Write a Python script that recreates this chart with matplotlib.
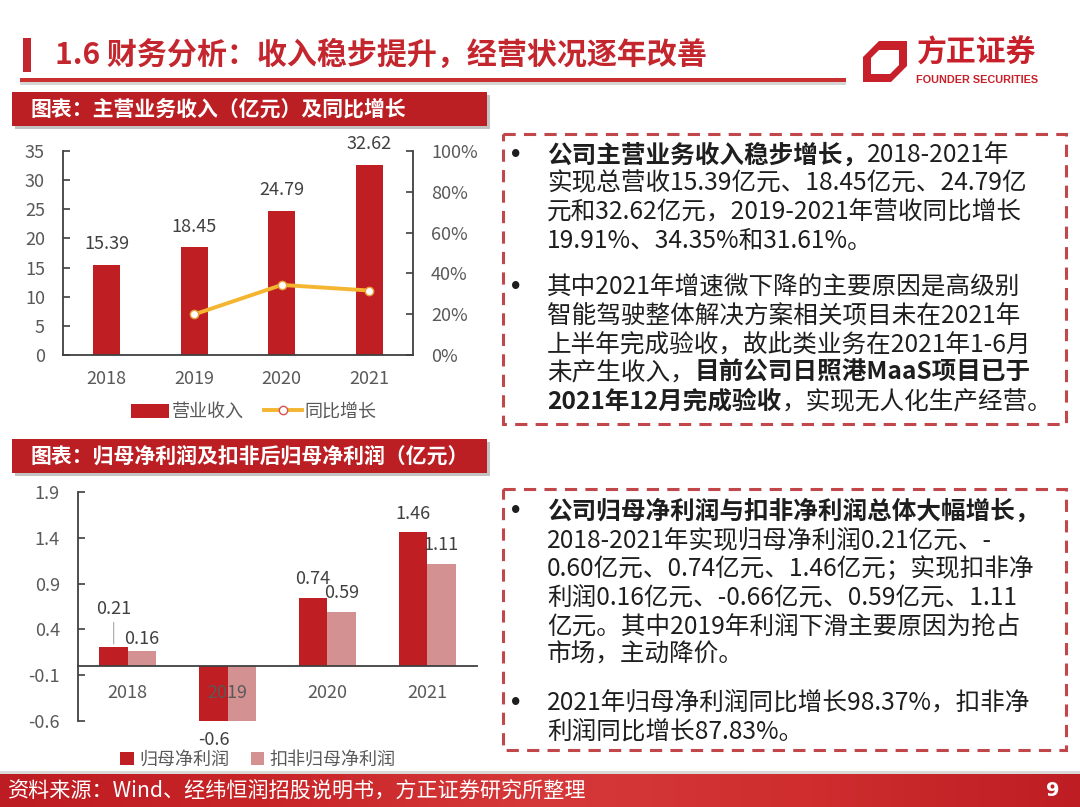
import matplotlib

matplotlib.use("Agg")

import matplotlib.pyplot as plt
import numpy as np
from matplotlib.colors import LinearSegmentedColormap
from matplotlib.lines import Line2D
from matplotlib.patches import Patch, Polygon, Rectangle
from matplotlib.ticker import FuncFormatter

plt.rcParams["font.family"] = ["Noto Sans CJK SC", "DejaVu Sans"]

# ---- data ----
YEARS = ["2018", "2019", "2020", "2021"]
REVENUE = [15.39, 18.45, 24.79, 32.62]
GROWTH_YEARS = ["2019", "2020", "2021"]
REVENUE_GROWTH = [19.91, 34.35, 31.61]
NET_PROFIT = [0.21, -0.60, 0.74, 1.46]
DEDUCTED_PROFIT = [0.16, -0.66, 0.59, 1.11]
DEDUCTED_LABELS = ["0.16", "", "0.59", "1.11"]
REV_TICKS = [0, 5, 10, 15, 20, 25, 30, 35]
GROWTH_TICKS = [0, 20, 40, 60, 80, 100]
PROFIT_TICKS = [-0.6, -0.1, 0.4, 0.9, 1.4, 1.9]

TITLE = "1.6 财务分析：收入稳步提升，经营状况逐年改善"
CHART1_TITLE = "图表：主营业务收入（亿元）及同比增长"
CHART2_TITLE = "图表：归母净利润及扣非后归母净利润（亿元）"
SOURCE = "资料来源：Wind、经纬恒润招股说明书，方正证券研究所整理"
PAGE = "9"

BOX1_LINES = [
    [("公司主营业务收入稳步增长，", True), ("2018-2021年", False)],
    [("实现总营收15.39亿元、18.45亿元、24.79亿", False)],
    [("元和32.62亿元，2019-2021年营收同比增长", False)],
    [("19.91%、34.35%和31.61%。", False)],
    None,
    [("其中2021年增速微下降的主要原因是高级别", False)],
    [("智能驾驶整体解决方案相关项目未在2021年", False)],
    [("上半年完成验收，故此类业务在2021年1-6月", False)],
    [("未产生收入，", False), ("目前公司日照港MaaS项目已于", True)],
    [("2021年12月完成验收", True), ("，实现无人化生产经营。", False)],
]
BOX2_LINES = [
    [("公司归母净利润与扣非净利润总体大幅增长，", True)],
    [("2018-2021年实现归母净利润0.21亿元、-", False)],
    [("0.60亿元、0.74亿元、1.46亿元；实现扣非净", False)],
    [("利润0.16亿元、-0.66亿元、0.59亿元、1.11", False)],
    [("亿元。其中2019年利润下滑主要原因为抢占", False)],
    [("市场，主动降价。", False)],
    None,
    [("2021年归母净利润同比增长98.37%，扣非净", False)],
    [("利润同比增长87.83%。", False)],
]

W, H = 1080, 807
RED = "#BF1E22"
PINK = "#D49191"
GOLD = "#F4B531"
TICK_TXT = "#595959"
LABEL_TXT = "#404040"
SPINE = "#404040"
BODY_TXT = "#1E1E1E"
DASH_RED = "#C2474A"


def px_axes(fig, left, top, right, bottom):
    return fig.add_axes([left / W, 1 - bottom / H, (right - left) / W, (bottom - top) / H])


def rich_line(ax, x, y, segments, size=17.7):
    prev = None
    for text, bold in segments:
        kw = dict(fontsize=size, color=BODY_TXT, fontweight="bold" if bold else "normal",
                  ha="left", va="center")
        if prev is None:
            prev = ax.text(x, y, text, **kw)
        else:
            prev = ax.annotate(text, xy=(1, 0.5), xycoords=prev, **kw)


def text_box(ax, top, bottom, lines, first_y, step, gap):
    ax.add_patch(Rectangle((503, top), 563, bottom - top, fill=False, edgecolor=DASH_RED,
                           linewidth=2.2, linestyle=(0, (4, 2.7))))
    y = first_y
    bullet_next = True
    for line in lines:
        if line is None:
            y += gap
            bullet_next = True
            continue
        if bullet_next:
            ax.text(516, y, "•", fontsize=15, color=BODY_TXT, ha="center", va="center",
                    fontweight="bold", family="DejaVu Sans")
            bullet_next = False
        rich_line(ax, 547, y, line)
        y += step


def chart_title(ax, top, text):
    ax.add_patch(Rectangle((15, top + 3), 475, 34, color="#9A9A9A", alpha=0.6, lw=0))
    ax.add_patch(Rectangle((12, top), 475, 34, color="#BC1F23", lw=0))
    ax.text(30, top + 17, text, fontsize=15, color="white", fontweight="bold", va="center")


fig = plt.figure(figsize=(W / 100, H / 100), dpi=100)
bg = fig.add_axes([0, 0, 1, 1], zorder=0)
bg.set_xlim(0, W)
bg.set_ylim(H, 0)
bg.axis("off")

# header
bg.add_patch(Rectangle((23, 38), 8, 34, color="#C4262E", lw=0))
bg.text(55, 55, TITLE, fontsize=21.6, color="#C4262E", fontweight="bold", va="center")
bg.add_patch(Rectangle((20, 81), 826, 4, color="#B9B9B9", lw=0, alpha=0.6))
bg.add_patch(Rectangle((20, 78), 826, 4, color="#C9302F", lw=0))

# logo
bg.add_patch(Polygon([(863, 57), (879, 41), (907, 41), (907, 66), (891, 82), (863, 82)],
                     closed=True, color="#C8202A", lw=0))
bg.add_patch(Polygon([(871, 58), (879, 50), (899, 50), (899, 65), (890, 74), (871, 74)],
                     closed=True, color="white", lw=0))
bg.text(977, 53, "方正证券", fontsize=21.5, color="#C8202A", fontweight="bold",
        ha="center", va="center")
bg.text(977, 80, "FOUNDER SECURITIES", fontsize=7.8, color="#C8202A", fontweight="bold",
        ha="center", va="center", family="Liberation Sans")

chart_title(bg, 92, CHART1_TITLE)
chart_title(bg, 439, CHART2_TITLE)

text_box(bg, 134, 424, BOX1_LINES, 155, 28.6, 18)
text_box(bg, 489, 750, BOX2_LINES, 511, 28.8, 19)

# footer
cmap = LinearSegmentedColormap.from_list(
    "footer", ["#BD1C22", "#C82528", "#D6393A", "#CF2D2E", "#BE1E23"])
bg.imshow(np.linspace(0, 1, 256)[None, :], cmap=cmap, aspect="auto",
          extent=(0, W, H, 774), zorder=1)
bg.add_patch(Rectangle((0, 771), W, 3, color="#D9D9D9", lw=0))
bg.text(8, 791, SOURCE, fontsize=15.2, color="white", va="center", zorder=3)
bg.text(1053, 791, PAGE, fontsize=14, color="white", fontweight="bold",
        ha="center", va="center", zorder=3, family="DejaVu Sans")
bg.set_xlim(0, W)
bg.set_ylim(H, 0)

# ---- chart 1: revenue and growth ----
ax1 = px_axes(fig, 63, 151, 413, 355)
ax1.set_facecolor("none")
x = np.arange(len(YEARS))
ax1.bar(x, REVENUE, width=0.31, color=RED, zorder=2)
for xi, v in zip(x, REVENUE):
    ax1.annotate(f"{v:.2f}", (xi, v), xytext=(0, 15), textcoords="offset points",
                 ha="center", va="center", fontsize=13, color=LABEL_TXT, annotation_clip=False)
ax1.set_xlim(-0.5, len(YEARS) - 0.5)
ax1.set_ylim(REV_TICKS[0], REV_TICKS[-1])
ax1.set_yticks(REV_TICKS)
ax1.set_xticks(x, YEARS)
ax1.tick_params(axis="y", direction="in", length=5, width=1.2, color=SPINE,
                labelsize=13, labelcolor=TICK_TXT, pad=13)
ax1.tick_params(axis="x", length=0, labelsize=13, labelcolor=TICK_TXT, pad=11)
for side in ("top", "right"):
    ax1.spines[side].set_visible(False)
for side in ("left", "bottom"):
    ax1.spines[side].set_color(SPINE)
    ax1.spines[side].set_linewidth(1.3)

ax1r = ax1.twinx()
gx = [YEARS.index(y) for y in GROWTH_YEARS]
ax1r.plot(gx, np.array(REVENUE_GROWTH) / 100, color=GOLD, lw=2.8, marker="o", ms=6,
          mfc="white", mec="#E8A13A", mew=1.0, zorder=3)
ax1r.set_ylim(GROWTH_TICKS[0] / 100, GROWTH_TICKS[-1] / 100)
ax1r.set_yticks([t / 100 for t in GROWTH_TICKS])
ax1r.yaxis.set_major_formatter(FuncFormatter(lambda v, _: f"{v * 100:.0f}%"))
ax1r.tick_params(axis="y", direction="in", length=5, width=1.2, color=SPINE,
                 labelsize=13, labelcolor=TICK_TXT, pad=13)
for side in ("top", "left", "bottom"):
    ax1r.spines[side].set_visible(False)
ax1r.spines["right"].set_color(SPINE)
ax1r.spines["right"].set_linewidth(1.3)

handles1 = [Patch(facecolor=RED, edgecolor="none"),
            Line2D([0], [0], color=GOLD, lw=2.8, marker="o", ms=6, mfc="white",
                   mec="#D9534F", mew=1.0)]
ax1r.legend(handles1, ["营业收入", "同比增长"], loc="center", bbox_to_anchor=(254, 412),
            bbox_transform=bg.transData, ncol=2, frameon=False, fontsize=13,
            handlelength=2.1, handleheight=0.8, handletextpad=0.15, columnspacing=1.1,
            labelcolor=TICK_TXT)

# ---- chart 2: net profit ----
ax2 = px_axes(fig, 78, 492, 477, 721)
ax2.set_facecolor("none")
bw = 0.285
ax2.bar(x - bw / 2, NET_PROFIT, width=bw, color=RED, zorder=1)
ax2.bar(x + bw / 2, DEDUCTED_PROFIT, width=bw, color=PINK, zorder=1)
net_offsets = [27, -14, 14, 13]
for xi, v, dy in zip(x, NET_PROFIT, net_offsets):
    arrow = dict(arrowstyle="-", color="#A6A6A6", lw=0.8, shrinkA=1, shrinkB=2) if dy > 20 else None
    ax2.annotate(f"{v:g}", (xi - bw / 2, v), xytext=(0, dy), textcoords="offset points",
                 ha="center", va="center", fontsize=13, color=LABEL_TXT,
                 arrowprops=arrow, annotation_clip=False)
ded_offsets = [9, 0, 14, 14]
for xi, v, lab, dy in zip(x, DEDUCTED_PROFIT, DEDUCTED_LABELS, ded_offsets):
    if lab:
        ax2.annotate(lab, (xi + bw / 2, v), xytext=(0, dy), textcoords="offset points",
                     ha="center", va="center", fontsize=13, color=LABEL_TXT,
                     annotation_clip=False)
ax2.set_xlim(-0.5, len(YEARS) - 0.5)
ax2.set_ylim(PROFIT_TICKS[0], PROFIT_TICKS[-1])
ax2.set_yticks(PROFIT_TICKS)
ax2.yaxis.set_major_formatter(FuncFormatter(lambda v, _: f"{v:g}"))
ax2.set_xticks(x, YEARS)
ax2.spines["bottom"].set_position(("data", 0))
ax2.tick_params(axis="y", direction="in", length=5, width=1.2, color=SPINE,
                labelsize=13, labelcolor=TICK_TXT, pad=13)
ax2.tick_params(axis="x", length=0, labelsize=13, labelcolor=TICK_TXT, pad=13)
for side in ("top", "right"):
    ax2.spines[side].set_visible(False)
for side in ("left", "bottom"):
    ax2.spines[side].set_color(SPINE)
    ax2.spines[side].set_linewidth(1.3)

handles2 = [Patch(facecolor=RED, edgecolor="none"), Patch(facecolor=PINK, edgecolor="none")]
ax2.legend(handles2, ["归母净利润", "扣非归母净利润"], loc="center", bbox_to_anchor=(258, 760),
           bbox_transform=bg.transData, ncol=2, frameon=False, fontsize=13,
           handlelength=0.75, handleheight=0.75, handletextpad=0.3, columnspacing=1.2,
           labelcolor=TICK_TXT)

fig.savefig("out.png", dpi=100)
